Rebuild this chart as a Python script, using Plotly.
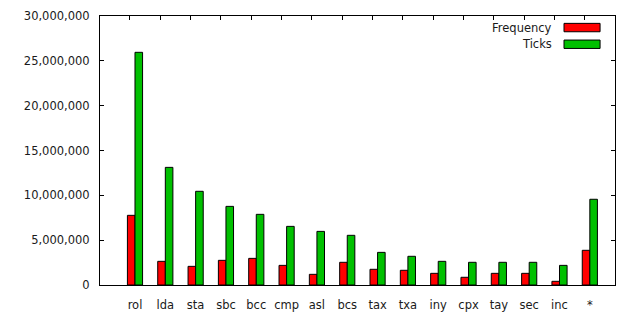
import plotly.graph_objects as go

categories = ["rol", "lda", "sta", "sbc", "bcc", "cmp", "asl", "bcs", "tax", "txa",
              "iny", "cpx", "tay", "sec", "inc", "*"]
frequency = [7770000, 2640000, 2080000, 2750000, 2970000, 2190000, 1190000, 2530000,
             1750000, 1640000, 1300000, 860000, 1300000, 1300000, 410000, 3870000]
ticks = [25950000, 13120000, 10450000, 8770000, 7880000, 6540000, 5980000, 5540000,
         3640000, 3200000, 2640000, 2530000, 2530000, 2530000, 2190000, 9560000]
series_names = ["Frequency", "Ticks"]
series_colors = ["#ff0000", "#00c000"]
y_tickvals = [0, 5000000, 10000000, 15000000, 20000000, 25000000, 30000000]

font = dict(family="DejaVu Sans", size=11.5, color="#1a1a1a")
x_range = [-1.154, 15.83]

fig = go.Figure()
for name, vals, col in zip(series_names, [frequency, ticks], series_colors):
    fig.add_trace(go.Bar(x=categories, y=vals, name=name, marker_color=col,
                         marker_line=dict(color="#000000", width=1), showlegend=False))

# invisible trace for top mirror tick axis
fig.add_trace(go.Scatter(x=[0], y=[0], xaxis="x2", mode="markers",
                         marker=dict(opacity=0), showlegend=False, hoverinfo="skip"))

fig.update_layout(
    width=640, height=320,
    margin=dict(l=100, r=25, t=16, b=35),
    paper_bgcolor="white", plot_bgcolor="white",
    barmode="group", bargap=0.5, bargroupgap=0,
    font=font,
    xaxis=dict(type="category", range=x_range, showgrid=False, ticks="",
               showline=True, linecolor="#000000", linewidth=1, mirror=True,
               tickfont=font, zeroline=False, ticklabelstandoff=9, automargin=False),
    xaxis2=dict(overlaying="x", side="top", range=x_range, showgrid=False,
                tickvals=[i - 0.165 for i in range(len(categories))],
                ticks="inside", ticklen=4, tickcolor="#000000", tickwidth=1,
                showticklabels=False, showline=False, zeroline=False, automargin=False),
    yaxis=dict(range=[0, 30000000], tickvals=y_tickvals, tickformat=",d",
               showgrid=False, ticks="inside", ticklen=4, tickcolor="#000000",
               showline=True, linecolor="#000000", linewidth=1, mirror="ticks",
               zeroline=False, tickfont=font, ticklabelstandoff=7, automargin=False),
)

# legend drawn in gnuplot style: text right-aligned, swatch at right
legend_y = [0.957, 0.895]
for name, col, yy in zip(series_names, series_colors, legend_y):
    fig.add_shape(type="rect", xref="paper", yref="paper",
                  x0=0.901, x1=0.971, y0=yy - 0.0156, y1=yy + 0.0156,
                  fillcolor=col, line=dict(color="#000000", width=1))
    fig.add_annotation(text=name, xref="paper", yref="paper", x=0.881, y=yy,
                       xanchor="right", yanchor="middle", showarrow=False, font=font)

fig.write_html("out.html")
